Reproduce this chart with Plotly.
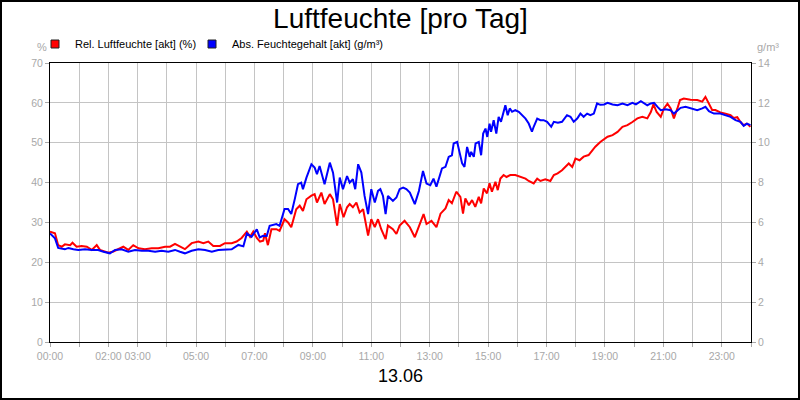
import plotly.graph_objects as go

# ---------------- data ----------------
hours_rel = [0.00, 0.17, 0.28, 0.40, 0.51, 0.69, 0.77, 0.91, 1.08, 1.26, 1.43, 1.60, 1.71, 1.88, 2.00,
             2.17, 2.28, 2.51, 2.68, 2.85, 3.03, 3.25, 3.48, 3.71, 3.94, 4.11, 4.28, 4.45, 4.62, 4.85,
             5.08, 5.25, 5.42, 5.59, 5.82, 5.99, 6.22, 6.39, 6.56, 6.74, 6.85, 6.96, 7.08, 7.19, 7.30,
             7.36, 7.46, 7.58, 7.75, 7.86, 8.03, 8.15, 8.26, 8.43, 8.55, 8.66, 8.78, 8.95, 9.06, 9.14,
             9.29, 9.40, 9.58, 9.69, 9.83, 9.92, 10.05, 10.17, 10.26, 10.37, 10.49, 10.60, 10.72, 10.89,
             11.00, 11.12, 11.23, 11.34, 11.49, 11.57, 11.74, 11.86, 11.97, 12.14, 12.32, 12.49, 12.63,
             12.79, 12.89, 13.06, 13.23, 13.37, 13.54, 13.65, 13.76, 13.91, 14.05, 14.14, 14.22, 14.34,
             14.45, 14.56, 14.68, 14.76, 14.85, 14.96, 15.05, 15.13, 15.25, 15.33, 15.42, 15.53, 15.63,
             15.76, 15.93, 16.10, 16.28, 16.39, 16.56, 16.68, 16.79, 16.96, 17.13, 17.25, 17.38, 17.53,
             17.65, 17.76, 17.88, 17.99, 18.13, 18.27, 18.44, 18.56, 18.67, 18.84, 19.09, 19.26, 19.43,
             19.60, 19.77, 19.94, 20.11, 20.28, 20.45, 20.57, 20.66, 20.77, 20.91, 21.02, 21.14, 21.25,
             21.36, 21.48, 21.57, 21.70, 21.93, 22.16, 22.33, 22.44, 22.56, 22.67, 22.78, 22.95, 23.13,
             23.30, 23.41, 23.53, 23.64, 23.75, 23.86, 23.98]
rel_humidity = [27.7, 27.3, 24.3, 23.9, 24.5, 24.3, 24.9, 23.9, 24.1, 23.9, 23.1, 24.3, 23.1, 22.7, 22.4,
                22.7, 23.1, 23.9, 23.1, 24.3, 23.5, 23.3, 23.5, 23.5, 23.9, 23.9, 24.6, 23.9, 23.3, 24.8,
                25.2, 24.8, 25.2, 24.1, 24.1, 24.8, 24.8, 25.2, 26.1, 27.7, 26.4, 27.7, 26.1, 25.2, 25.4,
                27.3, 24.3, 28.3, 28.3, 27.9, 30.8, 30.0, 28.8, 33.3, 34.2, 32.9, 35.8, 36.7, 37.1, 35.0,
                37.5, 34.6, 37.1, 35.8, 29.2, 34.6, 31.3, 33.8, 34.6, 33.8, 35.0, 32.5, 33.3, 26.7,
                30.8, 28.8, 30.8, 28.3, 25.8, 29.2, 28.3, 27.1, 29.2, 30.4, 28.8, 26.3, 29.2,
                32.1, 29.6, 30.4, 28.8, 32.2, 33.5, 35.6, 34.8, 37.7, 36.4, 32.2, 36.0, 34.3,
                35.6, 33.9, 36.4, 34.8, 38.5, 37.3, 39.8, 37.7, 40.2, 38.1, 41.0, 41.9, 41.4,
                41.9, 41.9, 41.4, 41.0, 40.4, 39.8, 41.0, 40.4, 40.8, 40.4, 41.9, 42.3, 43.1,
                43.9, 44.8, 43.9, 46.0, 45.6, 46.5, 46.9, 48.1, 49.0, 50.2, 51.5, 51.9, 52.7,
                54.0, 54.4, 55.2, 56.1, 56.5, 56.1, 57.7, 59.6, 57.7, 56.5, 58.6, 59.8, 58.6,
                56.1, 58.6, 60.7, 61.1, 60.8, 60.7, 60.3, 61.5, 59.8, 58.2, 58.2, 57.6, 57.3,
                56.9, 56.2, 56.4, 55.2, 54.4, 54.8, 54.0]

hours_abs = [0.00, 0.17, 0.28, 0.51, 0.63, 0.80, 0.97, 1.20, 1.43, 1.65, 1.83, 2.05, 2.23, 2.45, 2.68,
             2.91, 3.14, 3.37, 3.60, 3.82, 4.05, 4.28, 4.45, 4.62, 4.85, 5.08, 5.31, 5.54, 5.76, 5.99,
             6.22, 6.45, 6.62, 6.74, 6.90, 7.08, 7.18, 7.30, 7.42, 7.52, 7.62, 7.75, 7.86, 8.03, 8.15,
             8.26, 8.38, 8.49, 8.60, 8.66, 8.78, 8.95, 9.06, 9.14, 9.23, 9.40, 9.58, 9.69, 9.83, 9.92,
             10.03, 10.09, 10.17, 10.26, 10.37, 10.45, 10.55, 10.66, 10.77, 10.89, 11.00, 11.12, 11.23,
             11.31, 11.40, 11.49, 11.57, 11.74, 11.86, 11.97, 12.09, 12.20, 12.32, 12.49, 12.63, 12.77,
             12.89, 13.02, 13.13, 13.23, 13.34, 13.42, 13.54, 13.65, 13.76, 13.82, 13.94, 14.03, 14.11,
             14.19, 14.28, 14.37, 14.42, 14.51, 14.57, 14.68, 14.76, 14.83, 14.91, 14.97, 15.05, 15.10,
             15.19, 15.28, 15.36, 15.44, 15.59, 15.67, 15.74, 15.82, 15.93, 16.05, 16.16, 16.28, 16.39,
             16.50, 16.56, 16.68, 16.79, 16.90, 17.02, 17.16, 17.25, 17.39, 17.53, 17.70, 17.82, 17.93,
             18.05, 18.16, 18.27, 18.39, 18.50, 18.62, 18.73, 18.84, 18.97, 19.09, 19.26, 19.43, 19.60,
             19.77, 19.94, 20.06, 20.23, 20.34, 20.45, 20.57, 20.68, 20.80, 20.91, 21.08, 21.25, 21.36,
             21.48, 21.59, 21.76, 21.93, 22.16, 22.33, 22.44, 22.56, 22.73, 22.95, 23.13, 23.30, 23.47,
             23.64, 23.75, 23.86, 23.98]
abs_humidity = [5.45, 5.20, 4.72, 4.65, 4.72, 4.65, 4.62, 4.65, 4.62, 4.62, 4.53, 4.45, 4.62, 4.65, 4.53,
                4.62, 4.58, 4.58, 4.53, 4.58, 4.53, 4.62, 4.53, 4.45, 4.58, 4.65, 4.62, 4.53, 4.62, 4.65,
                4.65, 4.87, 4.80, 5.45, 5.28, 5.65, 5.25, 5.33, 5.32, 5.83, 5.87, 5.92, 5.83, 6.67, 6.67,
                6.42, 7.17, 7.92, 8.00, 7.67, 8.25, 8.92, 8.75, 8.42, 8.83, 7.92, 9.00, 8.50, 7.00, 8.25,
                7.67, 8.00, 8.33, 8.00, 8.17, 7.67, 8.92, 8.50, 7.33, 6.42, 7.67, 7.00, 7.58,
                7.67, 7.33, 6.42, 7.33, 7.08, 7.25, 7.67, 7.75, 7.67, 7.50, 6.92, 7.58, 8.58,
                7.95, 7.87, 8.20, 7.79, 8.30, 8.71, 8.79, 9.29, 9.37, 9.96, 10.04, 9.46, 8.96,
                8.79, 9.79, 9.29, 9.54, 9.29, 9.96, 10.04, 9.37, 10.46, 10.71, 10.29, 10.96, 10.55,
                11.13, 10.46, 11.30, 11.05, 11.88, 11.38, 11.72, 11.55, 11.63, 11.55, 11.38, 11.21, 10.96,
                10.55, 10.80, 11.21, 11.13, 11.13, 11.05, 10.80, 11.05, 11.00, 11.05, 11.38, 11.30, 11.05,
                11.21, 11.46, 11.30, 11.46, 11.38, 11.46, 11.97, 11.90, 11.92, 12.00, 11.92, 11.88, 11.97,
                11.88, 12.00, 11.92, 12.08, 11.97, 11.88, 11.97, 12.00, 11.80, 11.63, 11.68, 11.63, 11.46,
                11.63, 11.75, 11.80, 11.72, 11.63, 11.72, 11.80, 11.58, 11.46, 11.46, 11.38, 11.30, 11.13,
                11.05, 10.85, 10.96, 10.88]

hour_ticks = list(range(0, 25))
hour_labels = ["00:00", "", "02:00", "03:00", "", "05:00", "", "07:00", "", "09:00", "", "11:00", "",
               "13:00", "", "15:00", "", "17:00", "", "19:00", "", "21:00", "", "23:00", ""]
left_ticks = [0, 10, 20, 30, 40, 50, 60, 70]
right_ticks = [0, 2, 4, 6, 8, 10, 12, 14]

name_rel = "Rel. Luftfeuchte [akt] (%)"
name_abs = "Abs. Feuchtegehalt [akt] (g/m³)"

# ---------------- figure ----------------
FONT = "Liberation Sans, Arial, sans-serif"
GRAY = "#a8a8a8"
W, H = 800, 400
L, R, T, B = 50, 49, 63, 58
PW, PH = W - L - R, H - T - B

def px_x(x):
    return (x - L) / PW

def px_y(y):
    return (H - B - y) / PH

fig = go.Figure()
fig.add_trace(go.Scatter(x=hours_abs, y=abs_humidity, yaxis="y2", mode="lines",
                         line=dict(color="#0000ff", width=2), name=name_abs, showlegend=False))
fig.add_trace(go.Scatter(x=hours_rel, y=rel_humidity, mode="lines",
                         line=dict(color="#ff0000", width=2), name=name_rel, showlegend=False))
# legend entries (square swatches)
fig.add_trace(go.Scatter(x=[None], y=[None], mode="markers", name=name_rel, legend="legend",
                         marker=dict(symbol="square", size=8, color="#ff0000",
                                     line=dict(color="#202020", width=1))))
fig.add_trace(go.Scatter(x=[None], y=[None], mode="markers", name=name_abs, legend="legend2",
                         marker=dict(symbol="square", size=8, color="#0000ff",
                                     line=dict(color="#202020", width=1))))

legend_common = dict(orientation="h", xanchor="left", yanchor="middle", y=px_y(44),
                     font=dict(family=FONT, size=11, color="black"),
                     bgcolor="rgba(0,0,0,0)", itemwidth=30)

fig.update_layout(
    width=W, height=H,
    margin=dict(l=L, r=R, t=T, b=B, autoexpand=False),
    paper_bgcolor="white", plot_bgcolor="white",
    font=dict(family=FONT, size=11, color=GRAY),
    title=dict(text="Luftfeuchte [pro Tag]", x=0.5, xanchor="center", xref="paper",
               y=1 - 18 / H, yanchor="middle", automargin=False,
               font=dict(family=FONT, size=28, color="black")),
    showlegend=True,
    legend=dict(x=px_x(35), **legend_common),
    legend2=dict(x=px_x(192), **legend_common),
    xaxis=dict(range=[0, 24], tickvals=hour_ticks, ticktext=hour_labels, tickangle=0,
               showgrid=True, gridcolor="#c4c4c4", gridwidth=1,
               showline=True, linecolor="black", linewidth=1, mirror=True,
               ticks="outside", ticklen=4, tickcolor=GRAY,
               tickfont=dict(family=FONT, size=10.5, color=GRAY),
               zeroline=False, fixedrange=True, automargin=False,
               title=dict(text="13.06", standoff=8,
                          font=dict(family=FONT, size=18, color="black"))),
    yaxis=dict(range=[0, 70], tickvals=left_ticks,
               showgrid=True, gridcolor="#c4c4c4", gridwidth=1,
               showline=True, linecolor="black", linewidth=1, mirror=True,
               ticks="outside", ticklen=4, tickcolor=GRAY,
               tickfont=dict(family=FONT, size=10.5, color=GRAY),
               zeroline=False, fixedrange=True, automargin=False),
    yaxis2=dict(range=[0, 14], tickvals=right_ticks, overlaying="y", side="right",
                showgrid=False, showline=False, zeroline=False,
                ticks="outside", ticklen=4, tickcolor=GRAY,
                tickfont=dict(family=FONT, size=10.5, color=GRAY), fixedrange=True,
                automargin=False),
    annotations=[
        dict(text="%", xref="paper", yref="paper", x=px_x(42), y=px_y(47),
             xanchor="center", yanchor="middle", showarrow=False,
             font=dict(family=FONT, size=11, color=GRAY)),
        dict(text="g/m³", xref="paper", yref="paper", x=px_x(768), y=px_y(47),
             xanchor="center", yanchor="middle", showarrow=False,
             font=dict(family=FONT, size=11, color=GRAY)),
    ],
    shapes=[
        dict(type="rect", xref="paper", yref="paper",
             x0=px_x(1), x1=px_x(799), y0=px_y(399), y1=px_y(1),
             line=dict(color="black", width=2), fillcolor="rgba(0,0,0,0)", layer="below"),
    ],
)

fig.write_html("out.html", config={"displayModeBar": False},
               post_script="document.body.style.margin='0px';document.body.style.overflow='hidden';")
